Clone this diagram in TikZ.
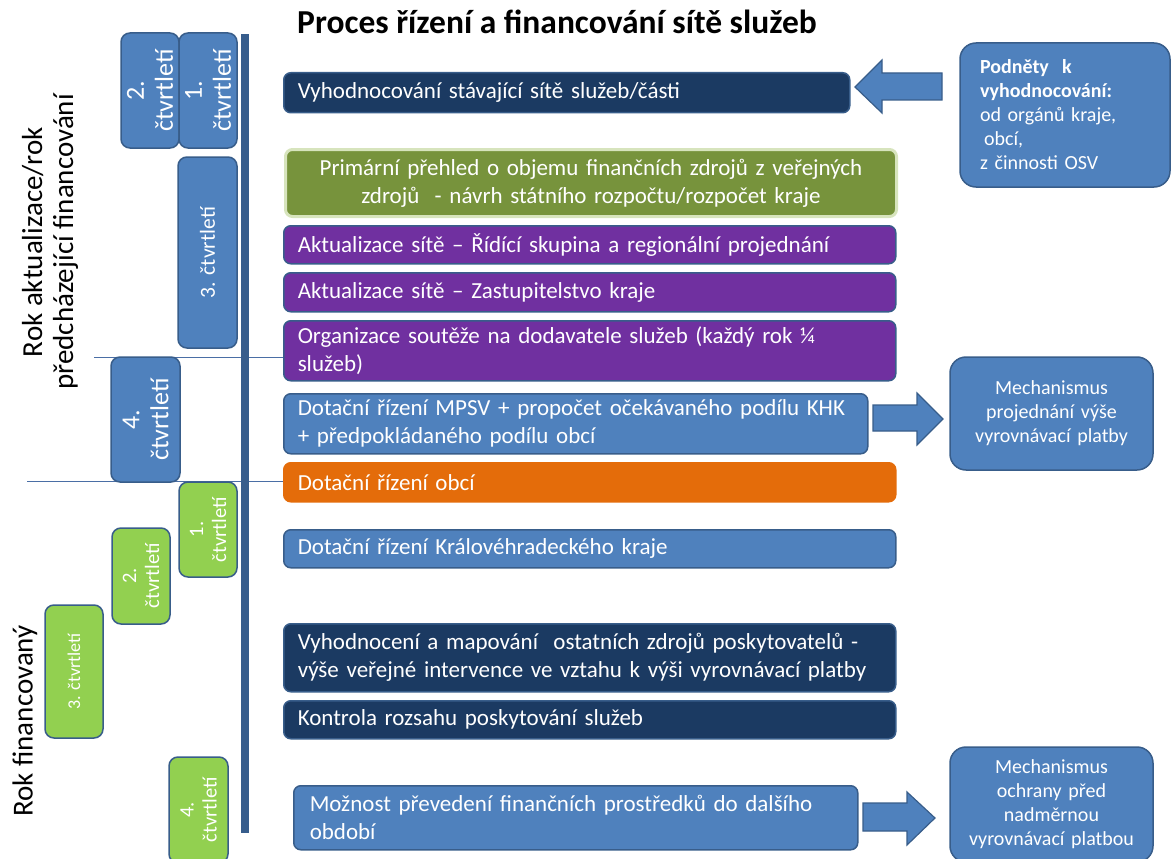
\documentclass[tikz,border=0pt]{standalone}
\usepackage{fontspec}
\setmainfont{Carlito}
\definecolor{qblue}{HTML}{4F81BD}
\definecolor{qedge}{HTML}{385D8A}
\definecolor{navy}{HTML}{1B3A62}
\definecolor{olive}{HTML}{77933C}
\definecolor{olivelight}{HTML}{D7E4BD}
\definecolor{purp}{HTML}{7030A0}
\definecolor{orng}{HTML}{E46C0A}
\definecolor{lgreen}{HTML}{92D050}
\definecolor{axisblue}{HTML}{375D8C}
\definecolor{thinline}{HTML}{4A6EA5}
\tikzset{
  procbox/.style={draw=qedge, line width=1.5pt, rounded corners=7pt, text=white,
    font=\fontsize{23}{28}\selectfont, align=left, anchor=north west,
    inner xsep=14pt, inner ysep=0pt},
  qbox/.style={draw=qedge, line width=1.5pt, rounded corners=9pt, fill=qblue,
    text=white, rotate=90, align=center, inner sep=0pt,
    font=\fontsize{26}{29}\selectfont},
  qboxone/.style={qbox, font=\fontsize{21.5}{26}\selectfont},
  gbox/.style={qbox, fill=lgreen, font=\fontsize{20.5}{23}\selectfont},
  gboxone/.style={gbox, font=\fontsize{18}{22}\selectfont},
  rbox/.style={draw=qedge, line width=1.5pt, rounded corners=16pt, fill=qblue,
    text=white, inner sep=0pt, font=\fontsize{20}{24}\selectfont},
  barrow/.style={draw=qedge, line width=1.2pt, fill=qblue, line join=miter},
  yearlabel/.style={rotate=90, align=center, font=\fontsize{29}{31}\selectfont},
}
\begin{document}
\begin{tikzpicture}[x=1pt,y=-1pt]
\useasboundingbox (0,0) rectangle (1171,859);

% title
\node[font=\bfseries\fontsize{33.5}{36}\selectfont] (title) at (557,22)
  {Proces řízení a financování sítě služeb};

% year labels
\node[yearlabel] (year1) at (50,242) {Rok aktualizace/rok\\předcházející financování};
\node[yearlabel] (year2) at (25,721) {Rok financovaný};

% year separators and time axis
\draw[thinline, line width=1pt] (94,357) -- (283,357);
\draw[thinline, line width=1pt] (27,481) -- (283,481);
\fill[axisblue] (241,34) rectangle (249,833);

% quarters of the preceding year
\node[qbox, minimum width=115pt, minimum height=58pt] (qa2) at (150,90.5) {2.\\čtvrtletí};
\node[qbox, minimum width=115pt, minimum height=58pt] (qa1) at (208,90.5) {1.\\čtvrtletí};
\node[qboxone, minimum width=191pt, minimum height=59pt] (qa3) at (207.5,252.5) {3. čtvrtletí};
\node[qbox, minimum width=125pt, minimum height=69pt] (qa4) at (145.5,419.5) {4.\\čtvrtletí};

% quarters of the financed year
\node[gbox, minimum width=95pt, minimum height=58pt] (qb1) at (208,529.5) {1.\\čtvrtletí};
\node[gbox, minimum width=96pt, minimum height=58pt] (qb2) at (141,576) {2.\\čtvrtletí};
\node[gboxone, minimum width=133pt, minimum height=58pt] (qb3) at (74,671.5) {3. čtvrtletí};
\node[gbox, minimum width=106pt, minimum height=59pt] (qb4) at (198.5,810) {4.\\čtvrtletí};

% process steps
\node[procbox, fill=navy, minimum width=566pt, text width=538pt, minimum height=40pt]
  (s1) at (283,72) {Vyhodnocování stávající sítě služeb/části};
\node[procbox, fill=olive, draw=olivelight, line width=3pt, align=center,
  minimum width=611pt, text width=583pt, minimum height=67pt]
  (s2) at (284,148) {Primární přehled o objemu finančních zdrojů z veřejných\\zdrojů\ \ - návrh státního rozpočtu/rozpočet kraje};
\node[procbox, fill=purp, minimum width=612pt, text width=584pt, minimum height=38pt]
  (s3) at (283,225) {Aktualizace sítě – Řídící skupina a regionální projednání};
\node[procbox, fill=purp, minimum width=612pt, text width=584pt, minimum height=39pt]
  (s4) at (283,272) {Aktualizace sítě – Zastupitelstvo kraje};
\node[procbox, fill=purp, minimum width=612pt, text width=584pt, minimum height=60pt]
  (s5) at (283,320) {Organizace soutěže na dodavatele služeb (každý rok ¼\\služeb)};
\node[procbox, fill=qblue, minimum width=584pt, text width=556pt, minimum height=60pt]
  (s6) at (283,393) {Dotační řízení MPSV + propočet očekávaného podílu KHK\\+ předpokládaného podílu obcí};
\node[procbox, fill=orng, draw=orng, minimum width=612pt, text width=584pt, minimum height=39pt]
  (s7) at (283,462) {Dotační řízení obcí};
\node[procbox, fill=qblue, minimum width=612pt, text width=584pt, minimum height=38pt]
  (s8) at (283,529) {Dotační řízení Královéhradeckého kraje};
\node[procbox, fill=navy, minimum width=612pt, text width=584pt, minimum height=68pt]
  (s9) at (283,623) {Vyhodnocení a mapování\ \ ostatních zdrojů poskytovatelů -\\výše veřejné intervence ve vztahu k výši vyrovnávací platby};
\node[procbox, fill=navy, minimum width=612pt, text width=584pt, minimum height=38pt]
  (s10) at (283,700) {Kontrola rozsahu poskytování služeb};
\node[procbox, fill=qblue, inner xsep=16pt, minimum width=564pt, text width=532pt, minimum height=64pt]
  (s11) at (293,785) {Možnost převedení finančních prostředků do dalšího\\období};

% side boxes
\node[rbox, align=left, minimum width=210pt, minimum height=144pt, text width=170pt]
  (impulses) at (1065,115)
  {\textbf{Podněty\ \ k}\\\textbf{vyhodnocování:}\\od orgánů kraje,\\\hspace*{4pt}obcí,\\z činnosti OSV};
\node[rbox, align=center, minimum width=203pt, minimum height=113pt, text width=190pt]
  (mech1) at (1051.5,413.5) {Mechanismus\\projednání výše\\vyrovnávací platby};
\node[rbox, align=center, minimum width=203pt, minimum height=115pt, text width=190pt]
  (mech2) at (1051.5,804.5) {Mechanismus\\ochrany před\\nadměrnou\\vyrovnávací platbou};

% block arrows
\draw[barrow] (855,87) -- (882,60) -- (882,73) -- (942,73) -- (942,100)
  -- (882,100) -- (882,113) -- cycle;
\draw[barrow] (943,419) -- (917,393) -- (917,405) -- (873,405) -- (873,431)
  -- (917,431) -- (917,445) -- cycle;
\draw[barrow] (935,818) -- (907,792) -- (907,803) -- (863,803) -- (863,831)
  -- (907,831) -- (907,845) -- cycle;
\end{tikzpicture}
\end{document}
